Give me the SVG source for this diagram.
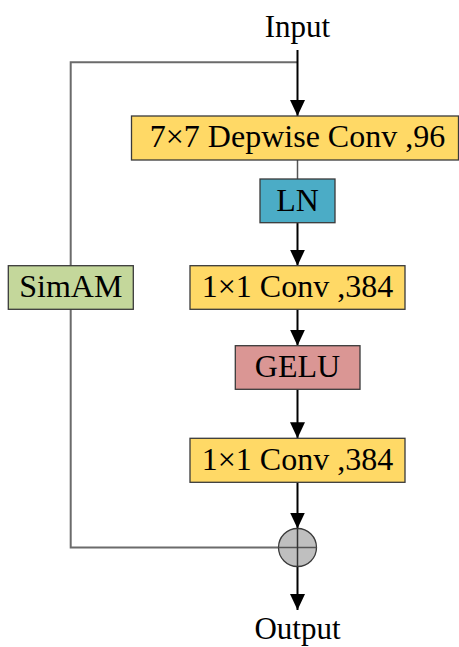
<svg xmlns="http://www.w3.org/2000/svg" width="459" height="647" viewBox="0 0 459 647">
<defs>
<style>
text{font-family:"Liberation Serif","Times New Roman",serif;font-size:32px;fill:#000;text-anchor:middle}
.box{stroke:#3a3a3a;stroke-width:1.3}
.y{fill:#FFD966}
.main{stroke:#000;stroke-width:2;fill:none}
.skip{stroke:#6b6b6b;stroke-width:2;fill:none}
.thin{stroke:#555;stroke-width:1.5;fill:none}
</style>
<marker id="ah" viewBox="0 0 16 15" refX="16" refY="7.5" markerWidth="16" markerHeight="15" markerUnits="userSpaceOnUse" orient="auto">
<path d="M0,0 L16,7.5 L0,15 Z" fill="#000"/>
</marker>
</defs>
<g id="connectors">
<polyline class="skip" points="297.5,62.3 70.7,62.3 70.7,547.5 279,547.5"/>
<line class="main" x1="297.5" y1="50" x2="297.5" y2="116" marker-end="url(#ah)"/>
<line class="thin" x1="297.5" y1="160" x2="297.5" y2="179"/>
<line class="main" x1="297.5" y1="222.7" x2="297.5" y2="265.7" marker-end="url(#ah)"/>
<line class="main" x1="297.5" y1="309.3" x2="297.5" y2="345.7" marker-end="url(#ah)"/>
<line class="main" x1="297.5" y1="389.3" x2="297.5" y2="438.3" marker-end="url(#ah)"/>
<line class="main" x1="297.5" y1="482.3" x2="297.5" y2="528.5" marker-end="url(#ah)"/>
<line class="main" x1="297.5" y1="566.5" x2="297.5" y2="610" marker-end="url(#ah)"/>
</g>
<g id="input"><text x="297.5" y="36.7" style="font-size:31px">Input</text></g>
<g id="dwconv"><rect class="box y" x="131.5" y="116" width="327" height="44"/><text x="297.5" y="147">7×7 Depwise Conv ,96</text></g>
<g id="ln"><rect class="box" fill="#4BACC6" x="260" y="179" width="75" height="43.7"/><text x="297.5" y="211">LN</text></g>
<g id="simam"><rect class="box" fill="#C4D79B" x="8.3" y="265.7" width="125" height="43.6"/><text x="70.8" y="297">SimAM</text></g>
<g id="conv1"><rect class="box y" x="190" y="265.7" width="215" height="43.6"/><text x="297.5" y="297">1×1 Conv ,384</text></g>
<g id="gelu"><rect class="box" fill="#DA9694" x="235.3" y="345.7" width="124.7" height="43.6"/><text x="297.5" y="376.5">GELU</text></g>
<g id="conv2"><rect class="box y" x="190" y="438.3" width="215" height="44"/><text x="297.5" y="469.5">1×1 Conv ,384</text></g>
<g id="add">
<circle cx="297.5" cy="547.5" r="19" fill="#BFBFBF" stroke="#3a3a3a" stroke-width="1.3"/>
<line x1="278.5" y1="547.5" x2="316.5" y2="547.5" stroke="#555" stroke-width="1.5"/>
<line x1="297.5" y1="528.5" x2="297.5" y2="566.5" stroke="#333" stroke-width="1.5"/>
</g>
<g id="output"><text x="297.5" y="639" style="font-size:31px">Output</text></g>
</svg>
